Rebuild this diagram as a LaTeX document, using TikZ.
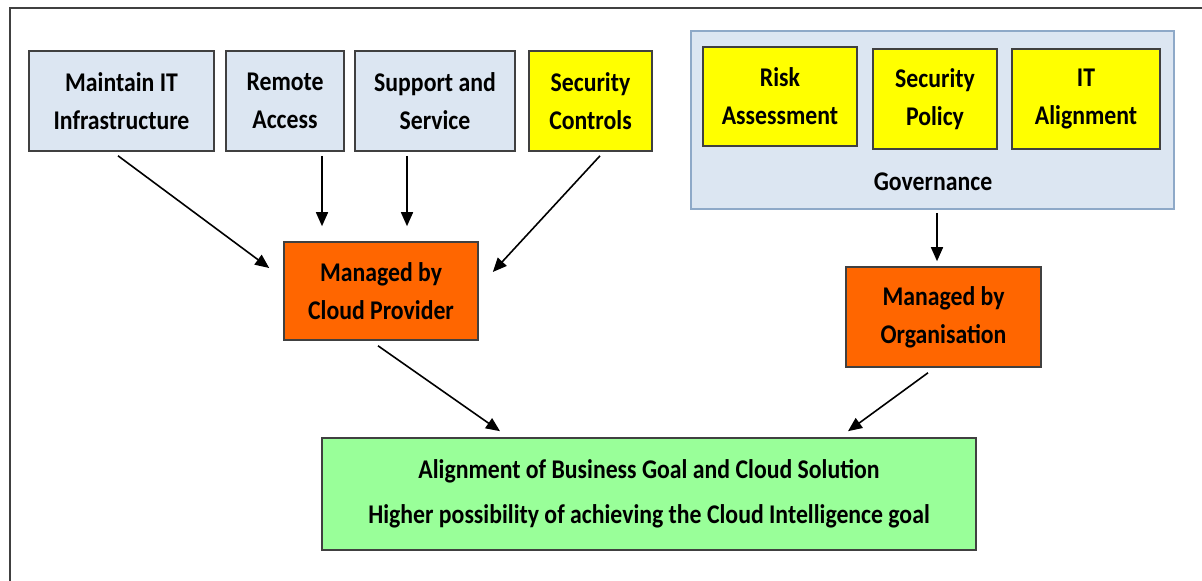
\documentclass[tikz,border=0pt]{standalone}
\usepackage{fontspec}
\setmainfont[FakeStretch=0.88]{Carlito}
\usetikzlibrary{arrows.meta}
\definecolor{lblue}{HTML}{DCE6F2}
\definecolor{ylw}{HTML}{FFFF00}
\definecolor{orng}{HTML}{FF6600}
\definecolor{grn}{HTML}{99FF99}
\definecolor{bord}{HTML}{404040}
\definecolor{govbord}{HTML}{8EA9C8}
\tikzset{
  box/.style={draw=bord, line width=0.8pt, rectangle, align=center, inner sep=0pt,
    font=\fontsize{13.5}{19}\selectfont\bfseries},
  arr/.style={draw=black, line width=0.8pt, -{Triangle[length=7pt,width=6pt]}},
}
\begin{document}
\begin{tikzpicture}[x=0.5pt,y=-0.5pt]
\useasboundingbox (0,0) rectangle (1202,581);
\draw[line width=1.3pt, draw=bord] (10,581) -- (10,8) -- (1202,8);
% governance container
\node[box, draw=govbord, fill=lblue, minimum width=241.5pt, minimum height=89pt] (gov) at (932.5,120) {};
\node[font=\fontsize{13.5}{19}\selectfont\bfseries, inner sep=0pt] (govlabel) at (933,182) {Governance};
\node[box, fill=ylw, minimum width=77pt, minimum height=49.5pt] (risk) at (780,96.5) {Risk\\Assessment};
\node[box, fill=ylw, minimum width=62pt, minimum height=50pt] (sp) at (935,99) {Security\\Policy};
\node[box, fill=ylw, minimum width=74pt, minimum height=50pt] (ita) at (1086,99) {IT\\Alignment};
% top row
\node[box, fill=lblue, minimum width=92.5pt, minimum height=50pt] (mit) at (121.5,101) {Maintain IT\\Infrastructure};
\node[box, fill=lblue, minimum width=59pt, minimum height=50pt] (ra) at (285,101) {Remote\\Access};
\node[box, fill=lblue, minimum width=80pt, minimum height=50pt] (ss) at (435,101) {Support and\\Service};
\node[box, fill=ylw, minimum width=61.5pt, minimum height=50pt] (sc) at (590.5,101) {Security\\Controls};
% managed
\node[box, fill=orng, minimum width=97pt, minimum height=49pt] (mcp) at (381,291) {Managed by\\Cloud Provider};
\node[box, fill=orng, minimum width=97.5pt, minimum height=50pt] (mo) at (943.5,317) {Managed by\\Organisation};
% goal
\node[box, fill=grn, minimum width=327pt, minimum height=56pt] (goal) at (649,494) {Alignment of Business Goal and Cloud Solution\\[3.5pt]Higher possibility of achieving the Cloud Intelligence goal};
% arrows
\draw[arr] ([shift={(-3.5,4)}]mit.south) -- ([shift={(-14,-23)}]mcp.west);
\draw[arr] ([shift={(37,4)}]ra.south) -- ([shift={(-59,-15)}]mcp.north);
\draw[arr] ([shift={(-28,4)}]ss.south) -- ([shift={(26,-15)}]mcp.north);
\draw[arr] ([shift={(9.5,4)}]sc.south) -- ([shift={(14,-19)}]mcp.east);
\draw[arr] ([shift={(4.5,3)}]gov.south) -- ([shift={(-6.5,-5)}]mo.north);
\draw[arr] ([shift={(-3,5)}]mcp.south) -- ([shift={(-149,-6)}]goal.north);
\draw[arr] ([shift={(-15.5,5)}]mo.south) -- ([shift={(199,-6)}]goal.north);
\end{tikzpicture}
\end{document}
